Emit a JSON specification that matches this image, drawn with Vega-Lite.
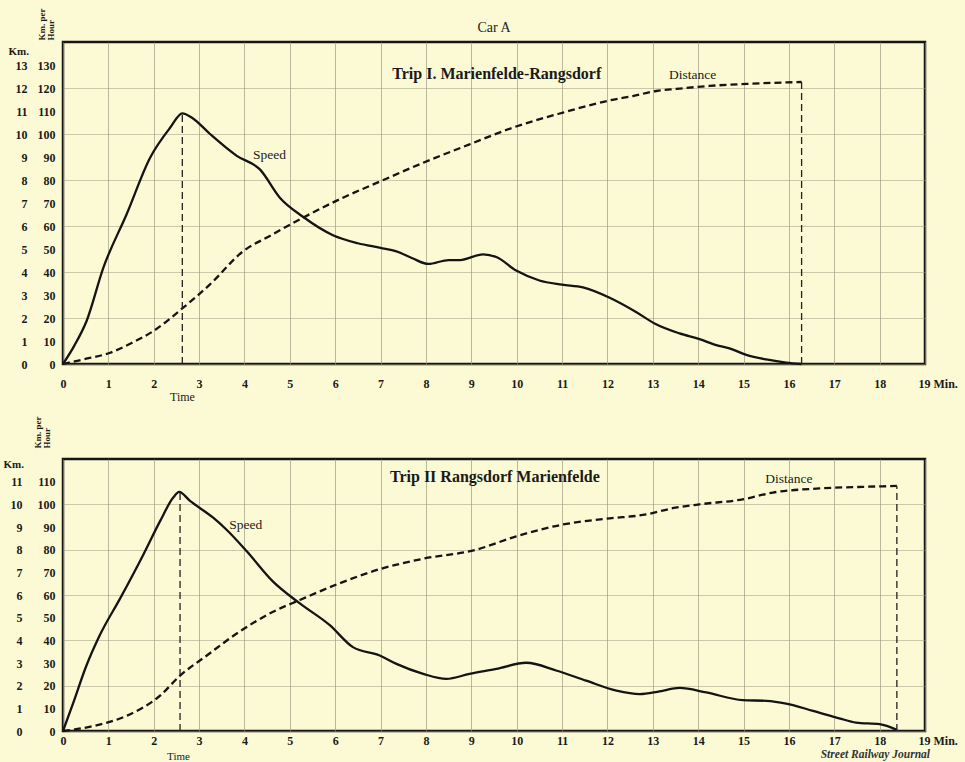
{
  "$schema": "https://vega.github.io/schema/vega-lite/v6.json",
  "background": "#FCFAD4",
  "padding": {"left": 1, "top": 6, "right": 5, "bottom": 0},
  "spacing": 10,
  "datasets": {
    "s1": [
      {"t": 0, "v": 0}, {"t": 0.25, "v": 8}, {"t": 0.52, "v": 18.7}, {"t": 0.89, "v": 41.9}, {"t": 1.4, "v": 65},
      {"t": 1.92, "v": 89.7}, {"t": 2.36, "v": 102.7}, {"t": 2.63, "v": 109}, {"t": 2.85, "v": 107}, {"t": 3.24, "v": 100},
      {"t": 3.83, "v": 90.5}, {"t": 4.34, "v": 84.6}, {"t": 4.78, "v": 72.3}, {"t": 5.29, "v": 64}, {"t": 5.95, "v": 56},
      {"t": 6.5, "v": 52.5}, {"t": 7.0, "v": 50.5}, {"t": 7.35, "v": 49}, {"t": 7.7, "v": 46}, {"t": 8.05, "v": 43.5},
      {"t": 8.5, "v": 45.2}, {"t": 8.75, "v": 45.2}, {"t": 9.26, "v": 47.7}, {"t": 9.55, "v": 46.5}, {"t": 10.0, "v": 40.5},
      {"t": 10.5, "v": 36.3}, {"t": 11.0, "v": 34.5}, {"t": 11.46, "v": 33.3}, {"t": 12.05, "v": 28.8}, {"t": 12.64, "v": 22.5},
      {"t": 13.05, "v": 17.5}, {"t": 13.59, "v": 13.3}, {"t": 14.03, "v": 10.8}, {"t": 14.4, "v": 8.2}, {"t": 14.69, "v": 6.8},
      {"t": 15.06, "v": 4}, {"t": 15.5, "v": 2}, {"t": 15.94, "v": 0.6}, {"t": 16.28, "v": 0}
    ],
    "d1": [
      {"t": 0, "v": 0}, {"t": 0.45, "v": 2}, {"t": 1.04, "v": 4.9}, {"t": 1.5, "v": 9}, {"t": 1.99, "v": 14.3},
      {"t": 2.65, "v": 24.5}, {"t": 3.24, "v": 34.6}, {"t": 3.97, "v": 49}, {"t": 4.56, "v": 55.7}, {"t": 5.29, "v": 63.6},
      {"t": 6.17, "v": 72.3}, {"t": 6.98, "v": 79.3}, {"t": 7.94, "v": 87.5}, {"t": 8.96, "v": 95.5}, {"t": 9.92, "v": 102.8},
      {"t": 11.02, "v": 109.3}, {"t": 12.05, "v": 114.6}, {"t": 12.56, "v": 116.5}, {"t": 13.08, "v": 118.7}, {"t": 13.52, "v": 119.6},
      {"t": 14.25, "v": 120.9}, {"t": 15.2, "v": 121.9}, {"t": 16.28, "v": 122.6}
    ],
    "r1": [{"t": 2.63, "lo": 0, "hi": 109}, {"t": 16.28, "lo": 0, "hi": 122.6}],
    "l1": [
      {"t": 9.56, "v": 126.3, "label": "Trip I.  Marienfelde-Rangsdorf", "kind": "trip"},
      {"t": 13.88, "v": 125.6, "label": "Distance", "kind": "curve"},
      {"t": 4.55, "v": 90.9, "label": "Speed", "kind": "curve"}
    ],
    "s2": [
      {"t": 0, "v": 0}, {"t": 0.23, "v": 12.6}, {"t": 0.5, "v": 28}, {"t": 0.81, "v": 42.2}, {"t": 1.26, "v": 58.5},
      {"t": 1.77, "v": 77.8}, {"t": 2.14, "v": 92.6}, {"t": 2.43, "v": 103}, {"t": 2.56, "v": 105.5}, {"t": 2.8, "v": 101.5},
      {"t": 3.31, "v": 94.1}, {"t": 3.6, "v": 88.9}, {"t": 4.05, "v": 79.3}, {"t": 4.63, "v": 65.9}, {"t": 5.22, "v": 56.3},
      {"t": 5.88, "v": 46.7}, {"t": 6.39, "v": 37}, {"t": 6.98, "v": 33.3}, {"t": 7.35, "v": 29.6}, {"t": 7.94, "v": 25.2},
      {"t": 8.45, "v": 23}, {"t": 8.96, "v": 25.2}, {"t": 9.55, "v": 27.4}, {"t": 10.21, "v": 30.1}, {"t": 10.87, "v": 26.7},
      {"t": 11.53, "v": 22.2}, {"t": 12.2, "v": 17.8}, {"t": 12.71, "v": 16.3}, {"t": 13.15, "v": 17.5}, {"t": 13.59, "v": 19},
      {"t": 14.18, "v": 17}, {"t": 14.98, "v": 13.6}, {"t": 15.5, "v": 13.3}, {"t": 15.94, "v": 12.1}, {"t": 16.53, "v": 8.9},
      {"t": 17.11, "v": 5.6}, {"t": 17.48, "v": 3.7}, {"t": 18.0, "v": 3.0}, {"t": 18.38, "v": 0.5}
    ],
    "d2": [
      {"t": 0, "v": 0}, {"t": 0.67, "v": 2.2}, {"t": 1.4, "v": 6.7}, {"t": 2.14, "v": 15.6}, {"t": 2.58, "v": 24.4},
      {"t": 3.17, "v": 33.3}, {"t": 3.83, "v": 43}, {"t": 4.63, "v": 52.6}, {"t": 5.22, "v": 57.8}, {"t": 6.1, "v": 65.2},
      {"t": 6.98, "v": 71.4}, {"t": 7.94, "v": 76}, {"t": 9.11, "v": 80}, {"t": 9.99, "v": 85.9}, {"t": 11.02, "v": 91.1},
      {"t": 12.05, "v": 93.8}, {"t": 12.78, "v": 95.3}, {"t": 13.5, "v": 98.5}, {"t": 14.03, "v": 100}, {"t": 14.98, "v": 102.2},
      {"t": 15.65, "v": 105.2}, {"t": 16.67, "v": 107}, {"t": 17.63, "v": 107.7}, {"t": 18.38, "v": 108.1}
    ],
    "r2": [{"t": 2.58, "lo": 0, "hi": 105.5}, {"t": 18.38, "lo": 0, "hi": 108.1}],
    "l2": [
      {"t": 9.52, "v": 112, "label": "Trip II  Rangsdorf Marienfelde", "kind": "trip"},
      {"t": 16.0, "v": 111, "label": "Distance", "kind": "curve"},
      {"t": 4.03, "v": 91, "label": "Speed", "kind": "curve"}
    ]
  },
  "vconcat": [
    {
      "width": 862,
      "height": 322,
      "title": {"text": "Car A", "frame": "group", "anchor": "middle", "offset": -27, "fontSize": 14, "font": "Liberation Serif", "fontWeight": "normal", "color": "#222"},
      "encoding": {
        "x": {
          "field": "t", "type": "quantitative",
          "scale": {"domain": [0, 19], "nice": false, "zero": false},
          "axis": {
            "values": [0,1,2,3,4,5,6,7,8,9,10,11,12,13,14,15,16,17,18,19],
            "title": "Time", "titleX": 119, "titleY": 32, "titleBaseline": "middle", "titleFontSize": 12, "titleFontWeight": "normal",
            "labelPadding": 14,
            "labelExpr": "datum.value == 19 ? '19  Min.' : datum.label",
            "labelAlign": {"condition": {"test": "datum.value == 19", "value": "left"}, "value": "center"},
            "labelOffset": {"condition": {"test": "datum.value == 19", "value": -7}, "value": 0}
          }
        }
      },
      "layer": [
        {
          "data": {"name": "s1"},
          "mark": {"type": "line", "interpolate": "monotone", "color": "#141414", "strokeWidth": 2.3},
          "encoding": {
            "y": {
              "field": "v", "type": "quantitative",
              "scale": {"domain": [0, 140], "nice": false},
              "axis": {
                "orient": "left",
                "values": [0,10,20,30,40,50,60,70,80,90,100,110,120,130],
                "labelPadding": 8,
                "gridOpacity": {"condition": {"test": "datum.value % 20 === 0", "value": 0.75}, "value": 0},
                "title": ["Km. per", "Hour"], "titleAngle": 270, "titleX": -26, "titleY": -2,
                "titleAlign": "left", "titleBaseline": "top", "titleFontSize": 9, "titleLineHeight": 9
              }
            }
          }
        },
        {
          "data": {"name": "d1"},
          "mark": {"type": "line", "interpolate": "monotone", "color": "#141414", "strokeWidth": 2.3, "strokeDash": [7, 4]},
          "encoding": {
            "y": {
              "field": "v", "type": "quantitative",
              "scale": {"domain": [0, 140], "nice": false},
              "axis": {
                "orient": "left", "grid": false,
                "values": [0,10,20,30,40,50,60,70,80,90,100,110,120,130],
                "labelExpr": "datum.value / 10",
                "labelPadding": 36,
                "title": "Km.", "titleAngle": 0, "titleX": -55, "titleY": 12,
                "titleAlign": "left", "titleBaseline": "alphabetic", "titleFontSize": 11
              }
            }
          }
        },
        {
          "data": {"name": "r1"},
          "mark": {"type": "rule", "color": "#222", "strokeWidth": 1.3, "strokeDash": [7, 4]},
          "encoding": {
            "y": {"field": "lo", "type": "quantitative", "scale": {"domain": [0, 140], "nice": false}, "axis": null},
            "y2": {"field": "hi"}
          }
        },
        {
          "data": {"name": "l1"},
          "transform": [{"filter": "datum.kind == 'trip'"}],
          "mark": {"type": "text", "font": "Liberation Serif", "fontWeight": "bold", "fontSize": 16, "color": "#1a1a1a"},
          "encoding": {
            "y": {"field": "v", "type": "quantitative", "scale": {"domain": [0, 140], "nice": false}, "axis": null},
            "text": {"field": "label"}
          }
        },
        {
          "data": {"name": "l1"},
          "transform": [{"filter": "datum.kind == 'curve'"}],
          "mark": {"type": "text", "font": "Liberation Serif", "fontSize": 13.5, "color": "#1a1a1a"},
          "encoding": {
            "y": {"field": "v", "type": "quantitative", "scale": {"domain": [0, 140], "nice": false}, "axis": null},
            "text": {"field": "label"}
          }
        }
      ],
      "resolve": {"scale": {"y": "independent"}, "axis": {"y": "independent"}}
    },
    {
      "width": 862,
      "height": 272,
      "title": {"text": "Street Railway Journal", "orient": "bottom", "frame": "group", "anchor": "end", "offset": -12, "dx": 5, "fontSize": 11.5, "font": "Liberation Serif", "fontStyle": "italic", "fontWeight": "bold", "color": "#333"},
      "encoding": {
        "x": {
          "field": "t", "type": "quantitative",
          "scale": {"domain": [0, 19], "nice": false, "zero": false},
          "axis": {
            "values": [0,1,2,3,4,5,6,7,8,9,10,11,12,13,14,15,16,17,18,19],
            "title": "Time", "titleX": 115, "titleY": 25, "titleBaseline": "middle", "titleFontSize": 11, "titleFontWeight": "normal",
            "labelPadding": 4,
            "labelExpr": "datum.value == 19 ? '19  Min.' : datum.label",
            "labelAlign": {"condition": {"test": "datum.value == 19", "value": "left"}, "value": "center"},
            "labelOffset": {"condition": {"test": "datum.value == 19", "value": -7}, "value": 0}
          }
        }
      },
      "layer": [
        {
          "data": {"name": "s2"},
          "mark": {"type": "line", "interpolate": "monotone", "color": "#141414", "strokeWidth": 2.3},
          "encoding": {
            "y": {
              "field": "v", "type": "quantitative",
              "scale": {"domain": [0, 120], "nice": false},
              "axis": {
                "orient": "left",
                "values": [0,10,20,30,40,50,60,70,80,90,100,110],
                "labelPadding": 8,
                "gridOpacity": {"condition": {"test": "datum.value % 20 === 0", "value": 0.75}, "value": 0},
                "title": ["Km. per", "Hour"], "titleAngle": 270, "titleX": -30, "titleY": -11,
                "titleAlign": "left", "titleBaseline": "top", "titleFontSize": 9, "titleLineHeight": 9
              }
            }
          }
        },
        {
          "data": {"name": "d2"},
          "mark": {"type": "line", "interpolate": "monotone", "color": "#141414", "strokeWidth": 2.3, "strokeDash": [7, 4]},
          "encoding": {
            "y": {
              "field": "v", "type": "quantitative",
              "scale": {"domain": [0, 120], "nice": false},
              "axis": {
                "orient": "left", "grid": false,
                "values": [0,10,20,30,40,50,60,70,80,90,100,110],
                "labelExpr": "datum.value / 10",
                "labelPadding": 41,
                "title": "Km.", "titleAngle": 0, "titleX": -60, "titleY": 8,
                "titleAlign": "left", "titleBaseline": "alphabetic", "titleFontSize": 11
              }
            }
          }
        },
        {
          "data": {"name": "r2"},
          "mark": {"type": "rule", "color": "#222", "strokeWidth": 1.3, "strokeDash": [7, 4]},
          "encoding": {
            "y": {"field": "lo", "type": "quantitative", "scale": {"domain": [0, 120], "nice": false}, "axis": null},
            "y2": {"field": "hi"}
          }
        },
        {
          "data": {"name": "l2"},
          "transform": [{"filter": "datum.kind == 'trip'"}],
          "mark": {"type": "text", "font": "Liberation Serif", "fontWeight": "bold", "fontSize": 16, "color": "#1a1a1a"},
          "encoding": {
            "y": {"field": "v", "type": "quantitative", "scale": {"domain": [0, 120], "nice": false}, "axis": null},
            "text": {"field": "label"}
          }
        },
        {
          "data": {"name": "l2"},
          "transform": [{"filter": "datum.kind == 'curve'"}],
          "mark": {"type": "text", "font": "Liberation Serif", "fontSize": 13.5, "color": "#1a1a1a"},
          "encoding": {
            "y": {"field": "v", "type": "quantitative", "scale": {"domain": [0, 120], "nice": false}, "axis": null},
            "text": {"field": "label"}
          }
        }
      ],
      "resolve": {"scale": {"y": "independent"}, "axis": {"y": "independent"}}
    }
  ],
  "config": {
    "view": {"stroke": "#151515", "strokeWidth": 2.5},
    "axis": {
      "labelFont": "Liberation Serif", "labelFontWeight": "bold", "labelFontSize": 12, "labelColor": "#1a1a1a",
      "titleFont": "Liberation Serif", "titleFontWeight": "bold", "titleColor": "#1a1a1a",
      "domain": false, "ticks": false,
      "gridColor": "#9a9880", "gridWidth": 0.9, "gridOpacity": 0.75
    }
  }
}
